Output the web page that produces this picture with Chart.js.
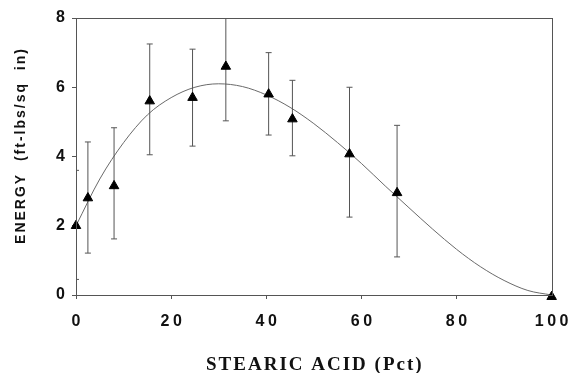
<!DOCTYPE html>
<html>
<head>
<meta charset="utf-8">
<script src="https://cdn.jsdelivr.net/npm/chart.js@4.4.0/dist/chart.umd.min.js"></script>
<style>
  html, body { margin: 0; padding: 0; background: #fff; }
  #wrap { width: 578px; height: 373px; position: relative; }
</style>
</head>
<body>
<div id="wrap"><canvas id="c" width="578" height="373"></canvas></div>
<script>
// Measured points (stearic acid pct vs impact energy)
const pointX = [0, 2.5, 8, 15.5, 24.5, 31.5, 40.5, 45.5, 57.5, 67.5, 100];
const pointY = [2.0, 2.8, 3.15, 5.6, 5.7, 6.6, 5.8, 5.08, 4.07, 2.95, -0.05];
const errHigh = [3.6, 4.42, 4.83, 7.25, 7.1, 8.0, 7.0, 6.2, 6.0, 4.9, null];
const errLow  = [0.45, 1.21, 1.62, 4.05, 4.3, 5.03, 4.62, 4.02, 2.25, 1.1, null];

// Fitted curve
const curveX = [0, 5, 10, 15, 20, 25, 30, 35, 40, 45, 50, 55, 60, 65, 70, 75, 80, 85, 90, 95, 100];
const curveY = [2.0, 3.35, 4.4, 5.2, 5.7, 6.0, 6.1, 6.02, 5.78, 5.42, 4.95, 4.4, 3.8, 3.15, 2.52, 1.9, 1.32, 0.82, 0.42, 0.13, 0.0];

const xTicks = [0, 20, 40, 60, 80, 100];
const yTicks = [0, 2, 4, 6, 8];

const xTitle = 'STEARIC ACID (Pct)';
const yTitle = 'ENERGY  (ft-lbs/sq  in)';

const datasets = [];
datasets.push({
  type: 'line',
  data: curveX.map((x, i) => ({x: x, y: curveY[i]})),
  borderColor: '#6a6a6a',
  borderWidth: 1,
  pointRadius: 0,
  cubicInterpolationMode: 'monotone',
  fill: false,
  order: 3
});
pointX.forEach((x, i) => {
  if (errHigh[i] == null) return;
  datasets.push({
    type: 'line',
    data: [{x: x, y: errLow[i]}, {x: x, y: errHigh[i]}],
    borderColor: '#555',
    borderWidth: 1,
    pointStyle: 'line',
    pointRadius: 3,
    pointBorderWidth: 1,
    pointBorderColor: '#555',
    fill: false,
    order: 2
  });
});
datasets.push({
  type: 'scatter',
  data: pointX.map((x, i) => ({x: x, y: pointY[i]})),
  pointStyle: 'triangle',
  pointRadius: 5.5,
  backgroundColor: '#000',
  borderColor: '#000',
  borderWidth: 1,
  clip: false,
  order: 1
});

const frame = {
  id: 'frame',
  afterDatasetsDraw(chart) {
    const a = chart.chartArea, ctx = chart.ctx;
    ctx.save();
    ctx.strokeStyle = '#555';
    ctx.lineWidth = 1;
    ctx.strokeRect(Math.round(a.left) + 0.5, Math.round(a.top) + 0.5, Math.round(a.right - a.left), Math.round(a.bottom - a.top));
    ctx.restore();
  }
};

// letter spacing for the typewriter-like spaced labels of the original
const spacing = {
  id: 'spacing',
  afterLayout(chart) {
    const cfg = {
      x: { ls: 3.5, ldx: 1.75, ldy: 0, tls: 2, tdx: 1, tdy: 2 },
      y: { ls: 3, ldx: 3, ldy: 0, tls: 2, tdx: 0, tdy: -11 }
    };
    ['x', 'y'].forEach(id => {
      const s = chart.scales[id];
      if (!s || s._spaced) return;
      s._spaced = true;
      const c = cfg[id];
      const dl = s.drawLabels.bind(s);
      s.drawLabels = function(area) {
        const ctx = this.ctx;
        ctx.save(); ctx.letterSpacing = c.ls + 'px'; ctx.translate(c.ldx, c.ldy);
        dl(area);
        ctx.restore();
      };
      const dt = s.drawTitle.bind(s);
      s.drawTitle = function() {
        const ctx = this.ctx;
        ctx.save(); ctx.letterSpacing = c.tls + 'px'; ctx.translate(c.tdx, c.tdy);
        dt();
        ctx.restore();
      };
    });
  }
};

const tickFont = { family: '"Liberation Sans", Arial, sans-serif', size: 16, weight: 'bold' };

new Chart(document.getElementById('c'), {
  type: 'scatter',
  data: { datasets: datasets },
  plugins: [frame, spacing],
  options: {
    responsive: false,
    animation: false,
    layout: { padding: { left: 0, right: 20, top: 18, bottom: 0 } },
    plugins: { legend: { display: false }, tooltip: { enabled: false } },
    scales: {
      x: {
        type: 'linear', min: 0, max: 100,
        afterBuildTicks(s) { s.ticks = xTicks.map(v => ({value: v})); },
        afterFit(s) { s.height = 78; },
        grid: { drawOnChartArea: false, drawTicks: true, tickLength: 4, color: '#555' },
        border: { display: true, color: '#444', width: 1 },
        ticks: { color: '#111', font: tickFont, padding: 13, maxRotation: 0 },
        title: {
          display: true, text: xTitle, color: '#111',
          font: { family: '"Liberation Serif", "Times New Roman", serif', size: 19, weight: 'bold', lineHeight: 1 },
          padding: { top: 0, bottom: 0 }
        }
      },
      y: {
        type: 'linear', min: 0, max: 8,
        afterBuildTicks(s) { s.ticks = yTicks.map(v => ({value: v})); },
        afterFit(s) { s.width = 76; },
        grid: { drawOnChartArea: false, drawTicks: true, tickLength: 4, color: '#555' },
        border: { display: true, color: '#444', width: 1 },
        ticks: { color: '#111', font: tickFont, padding: 7 },
        title: {
          display: true, text: yTitle, color: '#111',
          font: { family: '"Liberation Sans", Arial, sans-serif', size: 14, weight: 'bold' },
          padding: { top: 13, bottom: 0 }
        }
      }
    }
  }
});
</script>
</body>
</html>
